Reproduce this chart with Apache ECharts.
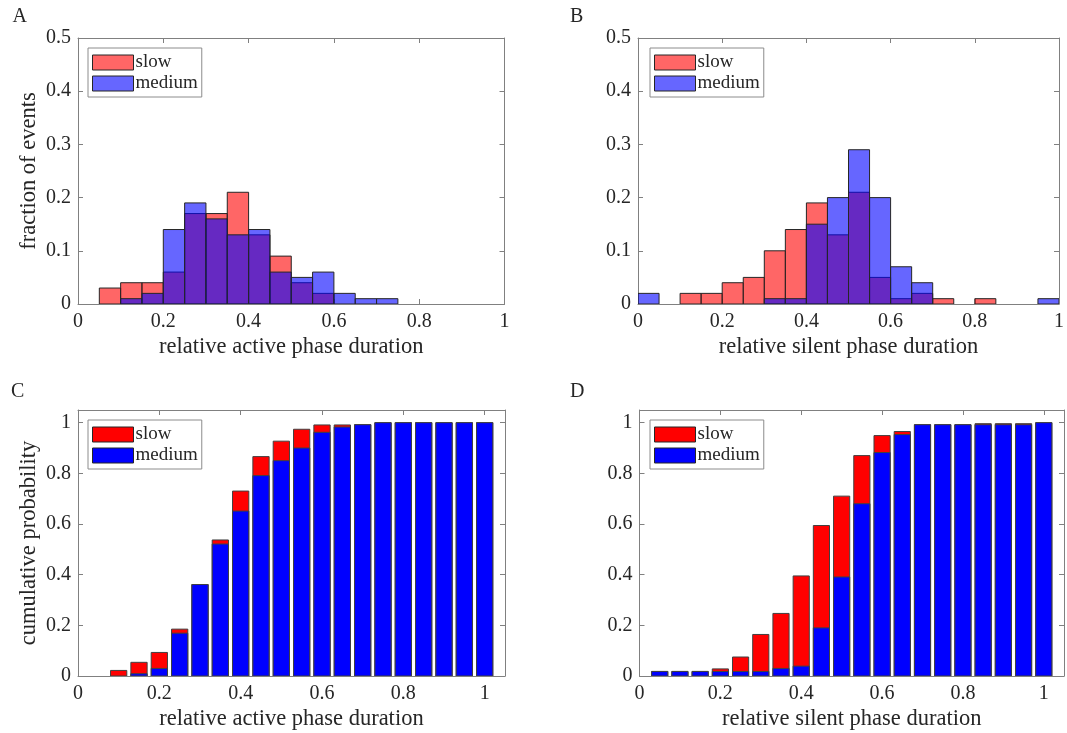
<!DOCTYPE html>
<html><head><meta charset="utf-8">
<script src="https://cdn.jsdelivr.net/npm/echarts@6/dist/echarts.min.js"></script>
<style>html,body{margin:0;padding:0;background:#fff}#c{width:1067px;height:733px}</style>
</head><body><div id="c"></div>
<script>
// ---- Data ----
// Panel A: histogram of relative active phase duration (bin left edges, width 0.05)
const binLeftA = [0.05,0.10,0.15,0.20,0.25,0.30,0.35,0.40,0.45,0.50,0.55,0.60,0.65,0.70];
const slowA    = [0.03,0.04,0.04,0.06,0.17,0.17,0.21,0.13,0.09,0.04,0.02,0,0,0];
const mediumA  = [0,0.01,0.02,0.14,0.19,0.16,0.13,0.14,0.06,0.05,0.06,0.02,0.01,0.01];
// Panel B: histogram of relative silent phase duration
const binLeftB = [0,0.05,0.10,0.15,0.20,0.25,0.30,0.35,0.40,0.45,0.50,0.55,0.60,0.65,0.70,0.75,0.80,0.85,0.90,0.95];
const slowB    = [0,0,0.02,0.02,0.04,0.05,0.10,0.14,0.19,0.13,0.21,0.05,0.01,0.02,0.01,0,0.01,0,0,0];
const mediumB  = [0.02,0,0,0,0,0,0.01,0.01,0.15,0.20,0.29,0.20,0.07,0.04,0,0,0,0,0,0.01];
const binWidth = 0.05;
// Panel C: cumulative probability, active phase (bar centres)
const centersC = [0.10,0.15,0.20,0.25,0.30,0.35,0.40,0.45,0.50,0.55,0.60,0.65,0.70,0.75,0.80,0.85,0.90,0.95,1.00];
const slowC    = [0.022,0.054,0.093,0.185,0.361,0.537,0.730,0.866,0.927,0.974,0.991,0.991,0.992,1,1,1,1,1,1];
const mediumC  = [0,0.009,0.030,0.169,0.361,0.521,0.651,0.791,0.850,0.900,0.962,0.983,0.992,1,1,1,1,1,1];
// Panel D: cumulative probability, silent phase
const centersD = [0.05,0.10,0.15,0.20,0.25,0.30,0.35,0.40,0.45,0.50,0.55,0.60,0.65,0.70,0.75,0.80,0.85,0.90,0.95,1.00];
const slowD    = [0.018,0.018,0.018,0.028,0.075,0.164,0.247,0.395,0.594,0.710,0.870,0.949,0.965,0.992,0.992,0.992,0.996,0.996,0.996,1];
const mediumD  = [0.018,0.018,0.018,0.018,0.018,0.018,0.030,0.039,0.190,0.391,0.680,0.882,0.953,0.992,0.992,0.992,0.992,0.992,0.992,1];
const barWidthCD = 0.04;
const xTicks = ['0','0.2','0.4','0.6','0.8','1'];

// ---- Styles ----
const FONT = 'Liberation Serif';
const TXT = '#262626';
const AX = '#808080';
const redA = 'rgba(255,0,0,0.6)', blueA = 'rgba(0,0,255,0.6)';
const redS = '#ff0000', blueS = '#0000ff';
const histEdge = '#262626', barEdge = '#404040';

function rectRender(fill, stroke) {
  return function (params, api) {
    const x0 = api.value(0), x1 = api.value(1), y = api.value(2);
    if (!(y > 0)) return null;
    const p0 = api.coord([x0, y]);
    const p1 = api.coord([x1, 0]);
    return { type: 'rect', shape: { x: p0[0], y: p0[1], width: p1[0] - p0[0], height: p1[1] - p0[1] },
             style: { fill: fill, stroke: stroke, lineWidth: 1 } };
  };
}
function histData(lefts, vals) { return lefts.map((l, i) => [l, l + binWidth, vals[i]]); }
function barData(centers, vals) { return centers.map((c, i) => [c - barWidthCD / 2, c + barWidthCD / 2, vals[i]]); }

const grids = [
  { left: 78, top: 38, width: 426.5, height: 266 },
  { left: 638, top: 38, width: 427, height: 266 },
  { left: 78, top: 410, width: 427, height: 266 },
  { left: 639.5, top: 410, width: 427, height: 266 }
];
const xMax = [1, 1, 1.05, 1.05];
const yMax = [0.5, 0.5, 1.05, 1.05];
const yInt = [0.1, 0.1, 0.2, 0.2];
const xNames = ['relative active phase duration', 'relative silent phase duration', 'relative active phase duration', 'relative silent phase duration'];
const yNames = ['fraction of events', '', 'cumulative probability', ''];

function onGrid(v, step) { return Math.abs(v / step - Math.round(v / step)) < 1e-6; }

const xAxes = [], yAxes = [];
grids.forEach((g, i) => {
  const common = { gridIndex: i, type: 'value', min: 0, splitLine: { show: false },
    axisLine: { show: true, onZero: false, lineStyle: { color: AX, width: 1 } },
    axisTick: { show: true, inside: true, length: 5, lineStyle: { color: AX } } };
  xAxes.push(Object.assign({}, common, { position: 'bottom', max: xMax[i], interval: 0.2,
    name: xNames[i], nameLocation: 'middle', nameGap: 32,
    nameTextStyle: { fontFamily: FONT, fontSize: 22.5, color: TXT },
    axisLabel: { margin: 8, fontFamily: FONT, fontSize: 20, color: TXT,
      formatter: v => onGrid(v, 0.2) ? xTicks[Math.round(v / 0.2)] : '' } }));
  xAxes.push(Object.assign({}, common, { position: 'top', max: xMax[i], interval: 0.2, axisLabel: { show: false } }));
  yAxes.push(Object.assign({}, common, { position: 'left', max: yMax[i], interval: yInt[i],
    name: yNames[i], nameLocation: 'middle', nameGap: 37,
    nameTextStyle: { fontFamily: FONT, fontSize: 22.5, color: TXT },
    axisLabel: { margin: 7, fontFamily: FONT, fontSize: 20, color: TXT,
      formatter: v => onGrid(v, yInt[i]) ? String(+v.toFixed(2)) : '' } }));
  yAxes.push(Object.assign({}, common, { position: 'right', max: yMax[i], interval: yInt[i], axisLabel: { show: false } }));
});

function mkSeries(p, name, data, fill, stroke) {
  return { type: 'custom', name: name, xAxisIndex: 2 * p, yAxisIndex: 2 * p, data: data,
    encode: { x: [0, 1], y: 2 }, renderItem: rectRender(fill, stroke), clip: true,
    itemStyle: { color: fill, borderColor: stroke, borderWidth: 1 }, silent: true };
}
const series = [
  mkSeries(0, 'slow', histData(binLeftA, slowA), redA, histEdge),
  mkSeries(0, 'medium', histData(binLeftA, mediumA), blueA, histEdge),
  mkSeries(1, 'slow', histData(binLeftB, slowB), redA, histEdge),
  mkSeries(1, 'medium', histData(binLeftB, mediumB), blueA, histEdge),
  mkSeries(2, 'slow', barData(centersC, slowC), redS, barEdge),
  mkSeries(2, 'medium', barData(centersC, mediumC), blueS, barEdge),
  mkSeries(3, 'slow', barData(centersD, slowD), redS, barEdge),
  mkSeries(3, 'medium', barData(centersD, mediumD), blueS, barEdge)
];

function mkLegend(left, top, red, blue) {
  return { orient: 'vertical', left: left, top: top, icon: 'rect', itemWidth: 41, itemHeight: 15, itemGap: 2,
    padding: [5, 4, 4, 4], backgroundColor: '#fff', borderColor: '#8c8c8c', borderWidth: 1, selectedMode: false,
    textStyle: { fontFamily: FONT, fontSize: 19, color: TXT, lineHeight: 15, padding: [0, 0, 0, -3] },
    data: [ { name: 'slow', itemStyle: { color: red, borderColor: histEdge, borderWidth: 1 } },
            { name: 'medium', itemStyle: { color: blue, borderColor: histEdge, borderWidth: 1 } } ] };
}
const legends = [ mkLegend(88, 48, redA, blueA), mkLegend(650, 48, redA, blueA),
                  mkLegend(88, 420, redS, blueS), mkLegend(650, 420, redS, blueS) ];

const letters = [['A', 12.5, 16.5], ['B', 570, 16.5], ['C', 11, 391.5], ['D', 570, 391.5]];
const graphic = letters.map(l => ({ type: 'text', left: l[1], top: l[2] - 10,
  style: { text: l[0], fontFamily: FONT, fontSize: 20, fill: TXT } }));

const chart = echarts.init(document.getElementById('c'), null, { renderer: 'canvas' });
chart.setOption({ animation: false, backgroundColor: '#fff', grid: grids, xAxis: xAxes, yAxis: yAxes,
  series: series, legend: legends, graphic: graphic });
</script></body></html>
